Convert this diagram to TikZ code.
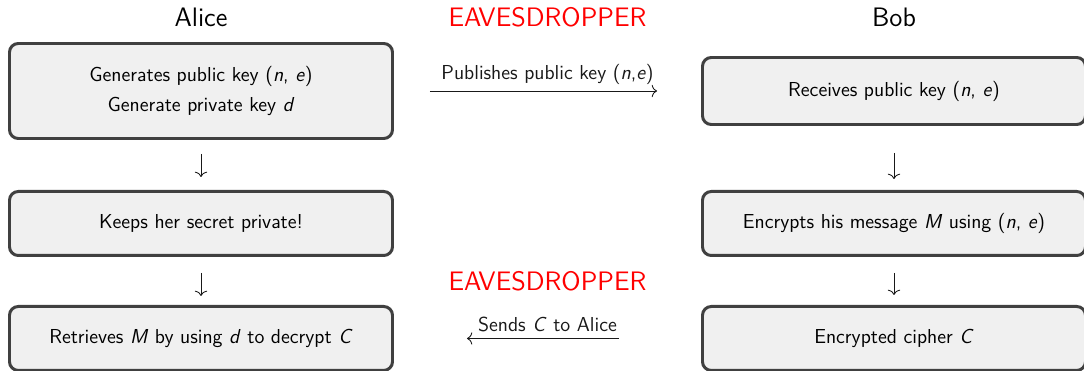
\documentclass[tikz,border=0pt]{standalone}
\usepackage{fontspec}
\renewcommand{\familydefault}{\sfdefault}
\usetikzlibrary{arrows.meta,positioning,calc}
\newcommand{\mv}[1]{\textit{#1}}

\begin{document}
\begin{tikzpicture}[node distance = 1cm,
  >={Computer Modern Rightarrow[width=7pt,length=3pt]},
  box/.style={draw=black!75, line width=1.7pt, fill=black!6, rounded corners=5pt,
    minimum width=7.66cm, minimum height=1.28cm, align=center,
    font=\fontsize{11.5}{13.8}\selectfont},
  title/.style={font=\fontsize{15.2}{18}\selectfont, anchor=base},
  eve/.style={title, text=red},
  msg/.style={->, black!90, line width=0.5pt, font=\fontsize{11.5}{13.8}\selectfont}]
\useasboundingbox (-4.02,1.82) rectangle (17.66,-5.6);

% Alice's side
\node[box, minimum height=1.9cm] (a1) {Generates public key (\mv{n}, \mv{e})\\[3pt] Generate private key \mv{d}};
\node[box] (a2) [below=1cm of a1] {Keeps her secret private!};
\node[box] (a3) [below=0.96cm of a2] {Retrieves \mv{M} by using \mv{d} to decrypt \mv{C}};

% Bob's side
\node[box, minimum height=1.34cm] (b1) [right=6.14cm of a1] {Receives public key (\mv{n}, \mv{e})};
\node[box] (b2) at (b1 |- a2) {Encrypts his message \mv{M} using (\mv{n}, \mv{e})};
\node[box] (b3) at (b1 |- a3) {Encrypted cipher \mv{C}};

\node[title] (alice) at ([yshift=0.31cm]a1.north) {Alice};
\node[title] (bob) at (alice.base -| b1) {Bob};
\node[eve] (eve1) at ($(alice.base)!0.5!(bob.base)$) {EAVESDROPPER};
\node[eve] (eve2) at ([yshift=0.95cm]$(a3)!0.5!(b3)$) {EAVESDROPPER};

\draw[msg, shorten <=0.28cm, shorten >=0.26cm] (a1.south) -- (a2.north);
\draw[msg, shorten <=0.32cm, shorten >=0.18cm] (a2.south) -- (a3.north);
\draw[msg, shorten <=0.54cm, shorten >=0.22cm] (b1.south) -- (b2.north);
\draw[msg, shorten <=0.32cm, shorten >=0.2cm] (b2.south) -- (b3.north);

\draw[msg, shorten <=0.72cm, shorten >=0.88cm] (a1.east) -- node[above] {Publishes public key (\mv{n},\mv{e})} (b1.west);
\draw[msg, shorten <=1.64cm, shorten >=1.46cm] (b3.west) -- node[above] {Sends \mv{C} to Alice} (a3.east);
\end{tikzpicture}
\end{document}
